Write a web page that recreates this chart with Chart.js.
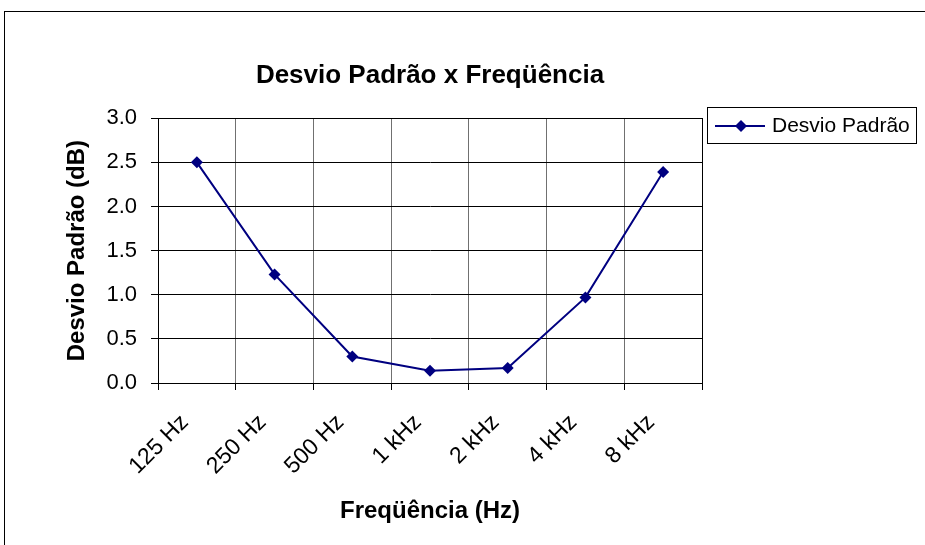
<!DOCTYPE html>
<html>
<head>
<meta charset="utf-8">
<script src="https://cdn.jsdelivr.net/npm/chart.js@4"></script>
<style>
  html, body { margin: 0; padding: 0; background: #fff; }
  #wrap { width: 925px; height: 545px; }
</style>
</head>
<body>
<div id="wrap"><canvas id="chart" width="925" height="545"></canvas></div>
<script>
const frequencias = ['125 Hz', '250 Hz', '500 Hz', '1 kHz', '2 kHz', '4 kHz', '8 kHz'];
const desvioPadrao = [2.50, 1.23, 0.30, 0.14, 0.17, 0.97, 2.39];
const yTicks = [0.0, 0.5, 1.0, 1.5, 2.0, 2.5, 3.0];

const navy = '#000080';
const fontFamily = 'Arial, "Liberation Sans", sans-serif';

// moldura externa, borda da area de plotagem e legenda (estilo Excel)
const excelFrame = {
    id: 'excelFrame',
    afterDraw(chart) {
        const c = chart.ctx;
        const a = chart.chartArea;
        c.save();
        c.strokeStyle = '#000';
        c.lineWidth = 1;
        c.strokeRect(4.5, 11.5, 1000, 600);
        c.strokeRect(Math.round(a.left) + 0.5, Math.round(a.top) + 0.5,
            Math.round(a.right - a.left), Math.round(a.bottom - a.top));

        // legenda
        const ds = chart.data.datasets[0];
        c.strokeStyle = '#000';
        c.strokeRect(707.5, 107.5, 209, 36);
        c.strokeStyle = ds.borderColor;
        c.lineWidth = 2;
        c.beginPath();
        c.moveTo(715, 126);
        c.lineTo(765, 126);
        c.stroke();
        c.fillStyle = ds.pointBackgroundColor;
        c.beginPath();
        c.moveTo(741, 120);
        c.lineTo(747, 126);
        c.lineTo(741, 132);
        c.lineTo(735, 126);
        c.closePath();
        c.fill();
        c.fillStyle = '#000';
        c.font = '21px ' + fontFamily;
        c.textBaseline = 'middle';
        c.textAlign = 'left';
        c.fillText(ds.label, 772, 126);
        c.restore();
    }
};

new Chart(document.getElementById('chart'), {
    type: 'line',
    data: {
        labels: frequencias,
        datasets: [{
            label: 'Desvio Padrão',
            data: desvioPadrao,
            borderColor: navy,
            backgroundColor: navy,
            pointBackgroundColor: navy,
            pointBorderColor: navy,
            borderWidth: 2,
            pointStyle: 'rectRot',
            pointRadius: 6,
            pointBorderWidth: 0,
            tension: 0
        }]
    },
    options: {
        responsive: false,
        animation: false,
        layout: { padding: { left: 54, right: 223, top: 0, bottom: 0 } },
        plugins: {
            legend: { display: false },
            tooltip: { enabled: false },
            title: {
                display: true,
                text: 'Desvio Padrão x Freqüência',
                color: '#000',
                fullSize: false,
                font: { family: fontFamily, size: 26, weight: 'bold' },
                padding: { top: 60, bottom: 27 }
            }
        },
        scales: {
            x: {
                offset: true,
                grid: { color: '#707070', offset: true, tickColor: '#000', tickLength: 7 },
                border: { color: '#000' },
                ticks: {
                    color: '#000',
                    autoSkip: false,
                    minRotation: 45,
                    maxRotation: 45,
                    padding: 19,
                    labelOffset: -12,
                    font: { family: fontFamily, size: 23 }
                },
                title: {
                    display: true,
                    text: 'Freqüência (Hz)',
                    color: '#000',
                    font: { family: fontFamily, size: 24, weight: 'bold' },
                    padding: { top: 0, bottom: 19 }
                },
                afterFit(scale) { scale.height = 162; }
            },
            y: {
                min: 0,
                max: 3,
                afterBuildTicks(scale) { scale.ticks = yTicks.map(v => ({ value: v })); },
                grid: { color: '#000', tickColor: '#000', tickLength: 7 },
                border: { color: '#000' },
                ticks: {
                    color: '#000',
                    padding: 14,
                    font: { family: fontFamily, size: 22 },
                    callback: v => Number(v).toFixed(1)
                },
                title: {
                    display: true,
                    text: 'Desvio Padrão (dB)',
                    color: '#000',
                    font: { family: fontFamily, size: 24, weight: 'bold' },
                    padding: { top: 9, bottom: 0 }
                },
                afterFit(scale) { scale.width = 104; }
            }
        }
    },
    plugins: [excelFrame]
});
</script>
</body>
</html>
